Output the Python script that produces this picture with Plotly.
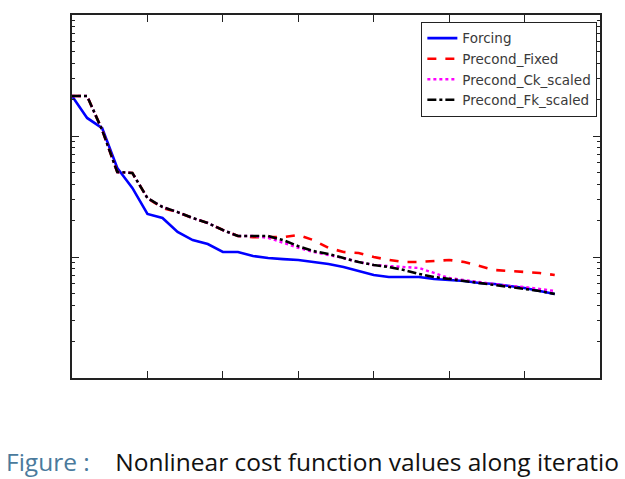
import plotly.graph_objects as go

iterations = list(range(33))

forcing = [214, 141, 116, 54.4, 37.2, 22.7, 21.0, 16.1, 13.8, 12.8, 11.0, 11.0, 10.2,
           9.8, 9.6, 9.45, 9.09, 8.75, 8.27, 7.66, 7.10, 6.84, 6.84, 6.84, 6.58, 6.45,
           6.33, 6.10, 5.98, 5.76, 5.54, 5.24, 4.94]
precond_fixed = [214, 214, 112, 50.4, 49.5, 30.7, 25.4, 23.5, 21.0, 19.1, 16.7, 14.9, 14.6,
                 14.6, 14.6, 15.2, 13.8, 11.9, 11.0, 10.8, 10.0, 9.45, 9.09, 9.09, 9.27, 9.45,
                 9.09, 8.43, 7.81, 7.66, 7.52, 7.38, 7.10]
precond_ck = [214, 214, 112, 50.4, 49.5, 30.7, 25.9, 23.5, 21.0, 19.1, 16.7, 14.9, 14.9,
              14.4, 13.1, 11.9, 11.0, 10.4, 9.8, 9.09, 8.59, 8.43, 8.27, 8.11, 7.38, 6.70,
              6.45, 6.21, 5.98, 5.76, 5.65, 5.44, 5.24]
precond_fk = [214, 214, 112, 50.4, 49.5, 30.7, 25.9, 23.5, 21.0, 19.1, 16.7, 14.9, 14.9,
              14.9, 13.8, 12.3, 11.2, 10.6, 9.8, 9.09, 8.59, 8.27, 7.81, 7.24, 6.84, 6.58,
              6.33, 6.10, 5.87, 5.65, 5.44, 5.24, 4.94]

x_ticks = [0, 5, 10, 15, 20, 25, 30, 35]
y_major = [1, 10, 100, 1000]
y_minor = [m * d for d in (1, 10, 100) for m in range(2, 10)]

caption_label = "Figure :"
caption_text = "Nonlinear cost function values along iteratio"

fig = go.Figure()
fig.add_trace(go.Scatter(x=iterations, y=forcing, name="Forcing", mode="lines",
                         line=dict(color="#0000ff", width=2.6)))
fig.add_trace(go.Scatter(x=iterations, y=precond_fixed, name="Precond_Fixed", mode="lines",
                         line=dict(color="#ff0000", width=2.6, dash="dash")))
fig.add_trace(go.Scatter(x=iterations, y=precond_ck, name="Precond_Ck_scaled", mode="lines",
                         line=dict(color="#ff00ff", width=2.4, dash="dot")))
fig.add_trace(go.Scatter(x=iterations, y=precond_fk, name="Precond_Fk_scaled", mode="lines",
                         line=dict(color="#000000", width=2.6, dash="dashdot")))

fig.update_layout(
    width=625, height=479,
    margin=dict(l=72, r=25, t=15, b=101),
    paper_bgcolor="white", plot_bgcolor="white",
    showlegend=True,
    legend=dict(x=0.995, y=0.981, xanchor="right", yanchor="top",
                bgcolor="white", bordercolor="#222222", borderwidth=1,
                font=dict(family="DejaVu Sans", size=13.5, color="#3a3a3a"),
                itemwidth=30, tracegroupgap=0),
    xaxis=dict(range=[0, 35], tickmode="array", tickvals=x_ticks, showticklabels=False,
               ticks="inside", ticklen=7, tickcolor="#222222", tickwidth=1,
               showline=True, linecolor="#222222", linewidth=1.5, mirror="allticks",
               showgrid=False, zeroline=False),
    yaxis=dict(type="log", range=[0, 3], tickmode="array", tickvals=y_major,
               showticklabels=False, ticks="inside", ticklen=7, tickcolor="#222222",
               tickwidth=1, showline=True, linecolor="#222222", linewidth=1.5,
               mirror="allticks", showgrid=False, zeroline=False,
               minor=dict(tickmode="array", tickvals=y_minor, ticks="inside", ticklen=3,
                          tickcolor="#222222", tickwidth=1, showgrid=False)),
)

fig.add_annotation(xref="paper", yref="paper", x=-68 / 528, y=-102 / 363,
                   xanchor="left", yanchor="bottom", showarrow=False,
                   text=f"<span style='color:#4a7a9c'>{caption_label}</span>&nbsp;&nbsp;&nbsp; {caption_text}",
                   font=dict(family="Open Sans", size=24.5, color="#111111"))

fig.write_html("out.html")
